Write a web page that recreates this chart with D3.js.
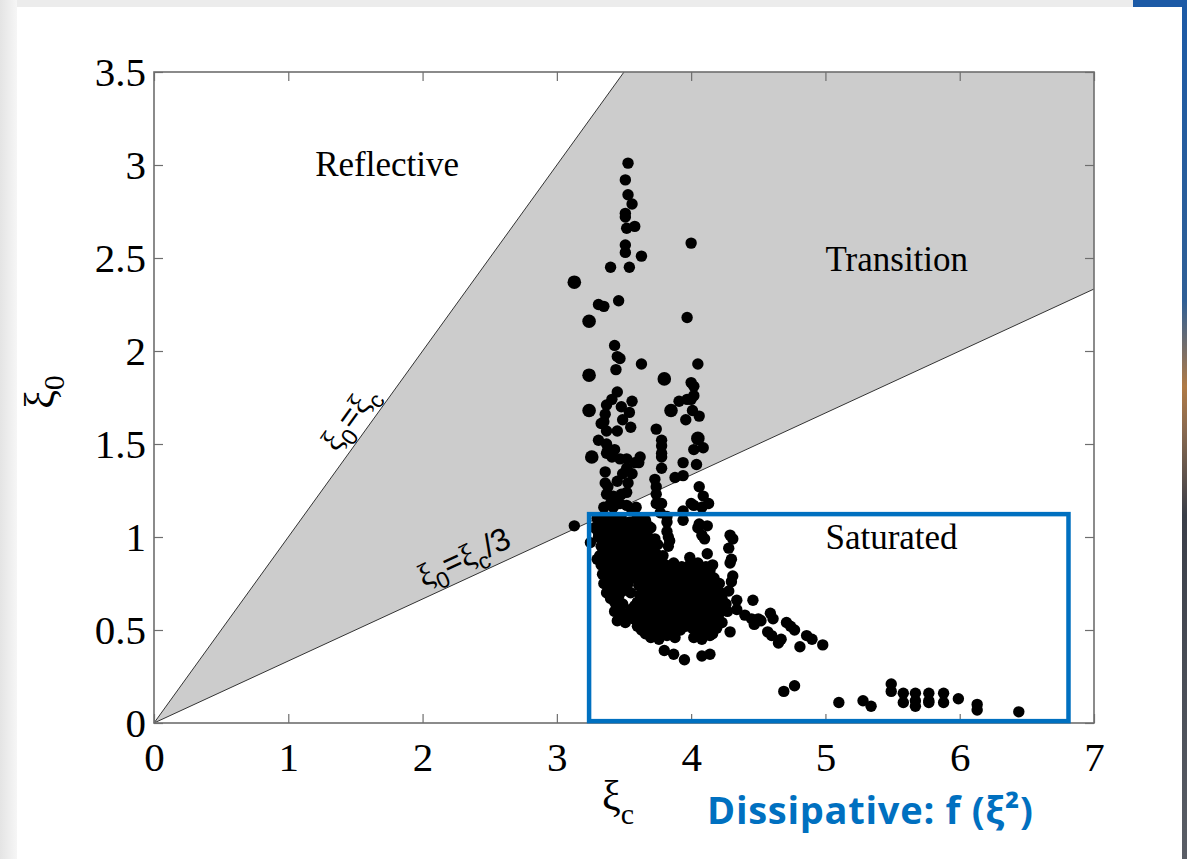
<!DOCTYPE html>
<html>
<head>
<meta charset="utf-8">
<script src="https://cdn.jsdelivr.net/npm/d3@7"></script>
<style>
  body { margin: 0; background: #fff; }
  svg { display: block; }
</style>
</head>
<body>
<svg id="chart" width="1187" height="859"></svg>
<script>
// Axis ticks and their labels
const xTicks = [0, 1, 2, 3, 4, 5, 6, 7];
const xTickLabels = ["0", "1", "2", "3", "4", "5", "6", "7"];
const yTicks = [0, 0.5, 1, 1.5, 2, 2.5, 3, 3.5];
const yTickLabels = ["0", "0.5", "1", "1.5", "2", "2.5", "3", "3.5"];

// Measured (xi_c, xi_0) pairs
const samples = [
  [3.53,3.01],[3.51,2.92],[3.53,2.84],[3.56,2.79],[3.51,2.74],[3.51,2.72],[3.52,2.66],[3.58,2.67],
  [3.51,2.57],[3.51,2.53],[3.63,2.51],[4.00,2.58],[3.40,2.45],[3.54,2.45],[3.46,2.27],[3.31,2.25],
  [3.35,2.24],[3.97,2.18],
  [3.43,2.03],[3.45,1.97],[3.47,1.96],[3.44,1.90],[3.63,1.93],[4.05,1.93],[4.00,1.83],[4.02,1.81],
  [3.45,1.78],[3.41,1.74],[3.37,1.71],[3.56,1.73],[3.54,1.67],[3.48,1.70],[3.91,1.73],[4.00,1.74],
  [4.01,1.68],[3.36,1.66],[3.35,1.62],[3.96,1.63],[4.06,1.65],[3.49,1.63],[3.55,1.59],[3.45,1.57],
  [3.74,1.58],[3.37,1.57],[3.31,1.52],[3.37,1.50],[3.38,1.47],[4.09,1.48],[4.02,1.47],[3.78,1.49],
  [3.78,1.45],[3.78,1.43],[3.43,1.47],[3.47,1.42],[3.52,1.42],[3.62,1.43],[3.61,1.40],[3.94,1.40],
  [3.52,1.37],[3.78,1.37],[4.04,1.39],[3.36,1.35],[3.56,1.34],[3.88,1.32],[3.94,1.33],[3.73,1.31],
  [3.45,1.30],[3.36,1.29],[3.38,1.27],[3.53,1.29],[3.74,1.27],[4.06,1.27],[3.48,1.23],[3.74,1.23],
  [4.09,1.22],[4.00,1.18],[4.13,1.18],[3.37,1.23],[3.40,1.18],[3.47,1.18],[3.52,1.17],[3.74,1.18],
  [3.33,1.61],[3.37,1.45],[3.41,1.43],[3.58,1.40],[3.49,1.34],[3.42,1.22],[3.52,1.24],[3.77,1.13],
  [4.02,1.17],[3.35,1.16],[3.42,1.16],[3.56,1.14],[3.59,1.16],[3.13,1.06],[3.35,1.09],[3.36,1.02],
  [3.40,0.97],[3.51,1.00],[3.58,0.97],[3.68,1.06],[3.82,1.08],[3.82,1.03],[3.84,0.98],[3.94,1.09],
  [4.05,1.05],[4.08,1.01],[4.10,0.99],
  [4.02,1.76],[3.97,1.74],[3.78,1.52],[4.08,1.16],[3.78,1.18],[3.94,1.14],[3.82,1.11],[3.83,1.00],
  [3.83,0.95],[4.06,1.07],[4.12,1.06],[4.29,1.01],[4.31,0.99],[4.28,0.94],[4.12,0.91],[3.99,0.89],
  [3.25,0.97],[3.30,0.88],[4.30,0.88],[4.31,0.79],[4.29,0.86],[4.30,0.76],[4.28,0.71],[4.21,0.75],
  [4.46,0.66],[4.34,0.61],[4.40,0.58],[4.45,0.56],[4.50,0.56],[4.47,0.53],[4.52,0.55],[4.59,0.59],
  [4.61,0.56],[4.57,0.49],[4.60,0.47],[4.65,0.43],[4.67,0.45],[4.71,0.54],[4.74,0.52],[4.77,0.50],
  [4.81,0.41],[4.86,0.47],[4.90,0.45],[4.98,0.42],[4.29,0.49],[4.14,0.37],[4.08,0.36],[4.34,0.66],
  [3.80,0.39],[3.87,0.37],[3.95,0.34],
  [4.69,0.17],[4.77,0.20],[5.10,0.11],[5.28,0.12],[5.34,0.09],[5.49,0.21],[5.49,0.17],[5.58,0.16],
  [5.58,0.11],[5.67,0.16],[5.67,0.12],[5.67,0.09],[5.77,0.16],[5.77,0.12],[5.77,0.11],[5.88,0.16],
  [5.88,0.11],[5.99,0.13],[6.13,0.10],[6.13,0.07],[6.44,0.06],
  // dense core of the saturated cluster
  [3.30,1.10],[3.36,1.11],[3.42,1.09],[3.48,1.10],[3.54,1.08],[3.60,1.10],[3.66,1.09],
  [3.28,1.05],[3.34,1.04],[3.40,1.06],[3.46,1.05],[3.52,1.04],[3.58,1.05],[3.64,1.03],[3.70,1.05],
  [3.31,1.00],[3.37,0.99],[3.43,1.01],[3.49,0.98],[3.55,1.00],[3.61,0.99],[3.67,1.01],[3.73,0.99],
  [3.33,0.95],[3.39,0.94],[3.45,0.96],[3.51,0.95],[3.57,0.93],[3.63,0.95],[3.69,0.94],[3.75,0.96],
  [3.32,0.90],[3.38,0.89],[3.44,0.91],[3.50,0.90],[3.56,0.88],[3.62,0.90],[3.68,0.89],[3.74,0.91],[3.79,0.90],
  [3.33,0.85],[3.39,0.84],[3.45,0.86],[3.51,0.85],[3.57,0.83],[3.63,0.85],[3.69,0.86],[3.75,0.84],
  [3.81,0.85],[3.87,0.86],[3.93,0.84],[3.99,0.85],[4.05,0.86],[4.11,0.84],[4.16,0.85],
  [3.34,0.80],[3.40,0.79],[3.46,0.81],[3.52,0.80],[3.58,0.78],[3.64,0.80],[3.70,0.81],[3.76,0.79],
  [3.82,0.80],[3.88,0.79],[3.94,0.81],[4.00,0.80],[4.06,0.78],[4.12,0.80],
  [3.35,0.75],[3.41,0.74],[3.47,0.76],[3.53,0.75],[3.61,0.74],[3.67,0.76],[3.73,0.75],[3.79,0.73],
  [3.85,0.75],[3.91,0.76],[3.97,0.74],[4.03,0.75],[4.09,0.76],[4.15,0.74],[4.19,0.75],
  [3.37,0.70],[3.43,0.69],[3.49,0.71],[3.55,0.70],[3.62,0.69],[3.68,0.71],[3.74,0.70],[3.80,0.68],
  [3.86,0.70],[3.92,0.71],[3.98,0.69],[4.04,0.70],[4.10,0.71],[4.16,0.69],[4.22,0.70],
  [3.43,0.65],[3.49,0.64],[3.60,0.65],[3.66,0.66],[3.72,0.64],[3.78,0.65],[3.84,0.66],[3.90,0.64],
  [3.96,0.65],[4.02,0.66],[4.08,0.64],[4.14,0.65],[4.20,0.66],[4.26,0.64],
  [3.43,0.60],[3.49,0.59],[3.55,0.61],[3.61,0.60],[3.67,0.58],[3.73,0.60],[3.79,0.61],[3.85,0.59],
  [3.91,0.60],[3.97,0.61],[4.03,0.59],[4.09,0.60],[4.15,0.61],[4.21,0.59],[4.27,0.60],
  [3.45,0.55],[3.51,0.54],[3.57,0.56],[3.63,0.55],[3.69,0.53],[3.75,0.55],[3.81,0.56],[3.87,0.54],
  [3.93,0.55],[3.99,0.56],[4.05,0.54],[4.11,0.55],[4.17,0.56],[4.23,0.54],
  [3.63,0.50],[3.69,0.49],[3.75,0.51],[3.81,0.50],[3.87,0.49],[3.92,0.50],[4.01,0.51],[4.07,0.49],
  [4.13,0.50],[4.19,0.51],
  [3.70,0.46],[3.76,0.45],[3.82,0.47],[3.88,0.46],[4.02,0.46],[4.08,0.45],[4.14,0.47],
  [3.33,1.07],[3.39,1.08],[3.45,1.07],[3.51,1.06],[3.57,1.08],[3.63,1.07],
  [3.31,1.02],[3.37,1.03],[3.43,1.02],[3.49,1.03],[3.55,1.02],[3.61,1.03],[3.67,1.02],
  [3.34,0.97],[3.40,0.98],[3.46,0.97],[3.52,0.98],[3.58,0.96],[3.64,0.98],[3.70,0.97],
  [3.35,0.92],[3.41,0.93],[3.47,0.92],[3.53,0.93],[3.59,0.91],[3.65,0.92],[3.71,0.93],
  [3.35,0.87],[3.41,0.88],[3.47,0.87],[3.53,0.88],[3.59,0.86],[3.65,0.87],[3.71,0.88],[3.77,0.87],
  [3.36,0.82],[3.42,0.83],[3.48,0.82],[3.54,0.83],[3.60,0.81],[3.66,0.82],[3.72,0.83],[3.78,0.82],
  [3.84,0.83],[3.90,0.82],[3.96,0.83],[4.02,0.82],[4.08,0.83],[4.14,0.82],
  [3.37,0.77],[3.43,0.78],[3.49,0.77],[3.55,0.78],[3.64,0.77],[3.70,0.78],[3.76,0.77],[3.82,0.78],
  [3.88,0.77],[3.94,0.78],[4.00,0.77],[4.06,0.76],[4.12,0.77],[4.17,0.78],
  [3.40,0.72],[3.46,0.73],[3.52,0.72],[3.65,0.73],[3.71,0.72],[3.77,0.73],[3.83,0.72],[3.89,0.73],
  [3.95,0.72],[4.01,0.73],[4.07,0.72],[4.13,0.73],[4.19,0.72],
  [3.40,0.67],[3.46,0.68],[3.63,0.67],[3.69,0.68],[3.75,0.67],[3.81,0.68],[3.87,0.67],[3.93,0.68],
  [3.99,0.67],[4.05,0.68],[4.11,0.67],[4.17,0.68],[4.23,0.67],
  [3.46,0.62],[3.58,0.63],[3.64,0.62],[3.70,0.63],[3.76,0.62],[3.82,0.63],[3.88,0.62],[3.94,0.63],
  [4.00,0.62],[4.06,0.63],[4.12,0.62],[4.18,0.63],[4.24,0.62],
  [3.48,0.57],[3.54,0.58],[3.60,0.57],[3.66,0.58],[3.72,0.57],[3.78,0.58],[3.84,0.57],[3.90,0.58],
  [3.96,0.57],[4.02,0.58],[4.08,0.57],[4.14,0.58],[4.20,0.57],
  [3.60,0.52],[3.66,0.53],[3.72,0.52],[3.78,0.53],[3.84,0.52],[3.90,0.53],[3.96,0.52],[4.04,0.53],
  [4.10,0.52],[4.16,0.53],
  [3.66,0.48],[3.72,0.48],[3.78,0.49],[3.84,0.48],[4.04,0.48],[4.10,0.49],[4.16,0.48]
];

// Samples plotted with the larger marker
const largeSamples = [
  [3.13,2.37],[3.24,2.16],[3.24,1.87],[3.80,1.85],[3.24,1.68],[3.85,1.68],[4.05,1.53],[3.26,1.43]
];

// Regime boundaries xi_0 = k * xi_c
const boundarySlopes = [1, 1 / 3];

// Regime names
const regionNames = ["Reflective", "Transition", "Saturated"];

// Extent of the dissipative (saturated) window: [xc0, xi0_0, xc1, xi0_1]
const saturatedBox = [3.24, 0.01, 6.81, 1.123];

// ---------------------------------------------------------------
const W = 1187, H = 859;
const plot = { left: 154, right: 1094, top: 72, bottom: 723 };

const svg = d3.select("#chart");

// slide backdrop: pale frame at top/left and a strip of the slide photo at the right
const defs = svg.append("defs");
const lg = defs.append("linearGradient").attr("id", "leftEdge").attr("x1", 0).attr("x2", 1);
lg.append("stop").attr("offset", 0).attr("stop-color", "#e4e4e4");
lg.append("stop").attr("offset", 1).attr("stop-color", "#f6f6f6");
const rg = defs.append("linearGradient").attr("id", "rightEdge").attr("x1", 0).attr("x2", 0).attr("y1", 0).attr("y2", 1);
[[0, "#1c5aa6"], [0.35, "#2f5f96"], [0.45, "#b07a45"], [0.5, "#8a6a50"], [0.6, "#3a3e48"], [1, "#5a5e66"]]
  .forEach(([o, c]) => rg.append("stop").attr("offset", o).attr("stop-color", c));

svg.append("rect").attr("x", 0).attr("y", 0).attr("width", W).attr("height", 7).attr("fill", "#ececec");
svg.append("rect").attr("x", 0).attr("y", 0).attr("width", 17).attr("height", H).attr("fill", "url(#leftEdge)");
svg.append("rect").attr("x", 1133).attr("y", 0).attr("width", W - 1133).attr("height", 7).attr("fill", "#1c5aa6");
svg.append("rect").attr("x", 1182).attr("y", 0).attr("width", 5).attr("height", H).attr("fill", "url(#rightEdge)");

const x = d3.scaleLinear().domain([0, 7]).range([plot.left, plot.right]);
const y = d3.scaleLinear().domain([0, 3.5]).range([plot.bottom, plot.top]);
const xMax = x.domain()[1];
const yMax = y.domain()[1];

// shaded transition wedge between the two boundaries
const steep = boundarySlopes[0], shallow = boundarySlopes[1];
const wedge = [
  [0, 0],
  [Math.min(yMax / steep, xMax), Math.min(steep * xMax, yMax)],
  [xMax, yMax],
  [xMax, Math.min(shallow * xMax, yMax)],
  [0, 0]
];
svg.append("path")
  .attr("d", d3.line().x(d => x(d[0])).y(d => y(d[1]))(wedge))
  .attr("fill", "#cccccc")
  .attr("stroke", "none");

// boundary lines
boundarySlopes.forEach(k => {
  const xe = Math.min(xMax, yMax / k);
  svg.append("line")
    .attr("x1", x(0)).attr("y1", y(0))
    .attr("x2", x(xe)).attr("y2", y(k * xe))
    .attr("stroke", "#333").attr("stroke-width", 1);
});

// boundary labels written along each line
const boundaryLabelStart = [1.42, 2.04];
const boundaryLabelParts = [
  [["ξ", 0], ["0", 1], ["=", 0], ["ξ", 0], ["c", 1]],
  [["ξ", 0], ["0", 1], ["=", 0], ["ξ", 0], ["c", 1], ["/3", 0]]
];
boundarySlopes.forEach((k, i) => {
  const t = boundaryLabelStart[i];
  const px = x(t), py = y(k * t);
  const ang = Math.atan2(y(0) - y(k), x(1) - x(0)) * 180 / Math.PI;
  const txt = svg.append("text")
    .attr("transform", `translate(${px},${py}) rotate(${-ang})`)
    .attr("y", -10)
    .attr("font-family", "'Liberation Sans', Arial, sans-serif")
    .attr("font-size", 32)
    .attr("fill", "#000");
  let lower = 0;
  boundaryLabelParts[i].forEach(([s, sub]) => {
    const shift = (sub ? 9 : 0) - lower;
    lower = sub ? 9 : 0;
    txt.append("tspan")
      .attr("dy", shift)
      .attr("font-size", sub ? 23 : 32)
      .attr("font-family", s === "ξ" ? "'Liberation Serif', serif" : null)
      .text(s);
  });
});

// scatter
const dots = svg.append("g").attr("fill", "#000");
dots.selectAll("circle.s").data(samples).join("circle")
  .attr("class", "s")
  .attr("cx", d => x(d[0])).attr("cy", d => y(d[1])).attr("r", 5.7);
dots.selectAll("circle.l").data(largeSamples).join("circle")
  .attr("class", "l")
  .attr("cx", d => x(d[0])).attr("cy", d => y(d[1])).attr("r", 6.8);

// box and inward ticks on all four sides
const axisColor = "#6e6e6e";
const tickLen = 9;
const fmtX = d => xTickLabels[xTicks.indexOf(d)];
const fmtY = d => yTickLabels[yTicks.indexOf(d)];

const gx = svg.append("g").attr("transform", `translate(0,${plot.bottom})`)
  .call(d3.axisBottom(x).tickValues(xTicks).tickFormat(fmtX).tickSizeInner(-tickLen).tickSizeOuter(0).tickPadding(19));
const gy = svg.append("g").attr("transform", `translate(${plot.left},0)`)
  .call(d3.axisLeft(y).tickValues(yTicks).tickFormat(fmtY).tickSizeInner(-tickLen).tickSizeOuter(0).tickPadding(8));
const gt = svg.append("g").attr("transform", `translate(0,${plot.top})`)
  .call(d3.axisTop(x).tickValues(xTicks).tickFormat("").tickSizeInner(-tickLen).tickSizeOuter(0));
const gr = svg.append("g").attr("transform", `translate(${plot.right},0)`)
  .call(d3.axisRight(y).tickValues(yTicks).tickFormat("").tickSizeInner(-tickLen).tickSizeOuter(0));

[gx, gy, gt, gr].forEach(g => {
  g.select(".domain").remove();
  g.selectAll(".tick line").attr("stroke", axisColor).attr("stroke-width", 1.2);
  g.selectAll("text")
    .attr("font-family", "'Liberation Serif', 'Times New Roman', serif")
    .attr("font-size", 41)
    .attr("fill", "#000");
});
// plot frame
svg.append("rect")
  .attr("x", plot.left).attr("y", plot.top)
  .attr("width", plot.right - plot.left).attr("height", plot.bottom - plot.top)
  .attr("fill", "none").attr("stroke", axisColor).attr("stroke-width", 1.6);

// regime names
const regionAnchors = [[1.20, 2.94], [5.00, 2.43], [5.00, 0.935]];
svg.append("g").selectAll("text").data(regionNames).join("text")
  .attr("x", (d, i) => x(regionAnchors[i][0]))
  .attr("y", (d, i) => y(regionAnchors[i][1]))
  .attr("font-family", "'Liberation Serif', 'Times New Roman', serif")
  .attr("font-size", 35)
  .attr("fill", "#000")
  .text(d => d);

// axis titles
const yTitle = svg.append("text")
  .attr("transform", `translate(54,392) rotate(-90)`)
  .attr("text-anchor", "middle")
  .attr("font-family", "'Liberation Serif', 'Times New Roman', serif")
  .attr("font-size", 42)
  .attr("fill", "#000");
yTitle.append("tspan").text("ξ");
yTitle.append("tspan").attr("dy", 10).attr("font-size", 30).text("0");

const xTitle = svg.append("text")
  .attr("x", 602).attr("y", 810)
  .attr("font-family", "'Liberation Serif', 'Times New Roman', serif")
  .attr("font-size", 42)
  .attr("fill", "#000");
xTitle.append("tspan").text("ξ");
xTitle.append("tspan").attr("dy", 14).attr("font-size", 30).text("c");

// dissipative window
svg.append("rect")
  .attr("x", x(saturatedBox[0])).attr("y", y(saturatedBox[3]))
  .attr("width", x(saturatedBox[2]) - x(saturatedBox[0]))
  .attr("height", y(saturatedBox[1]) - y(saturatedBox[3]))
  .attr("fill", "none").attr("stroke", "#0070c0").attr("stroke-width", 4.5);

svg.append("text")
  .attr("x", 707).attr("y", 824)
  .attr("font-family", "'Open Sans', 'Noto Sans', sans-serif")
  .attr("font-weight", 700)
  .attr("font-size", 38)
  .attr("textLength", 326)
  .attr("lengthAdjust", "spacing")
  .attr("fill", "#0070c0")
  .text("Dissipative: f (ξ²)");
</script>
</body>
</html>
